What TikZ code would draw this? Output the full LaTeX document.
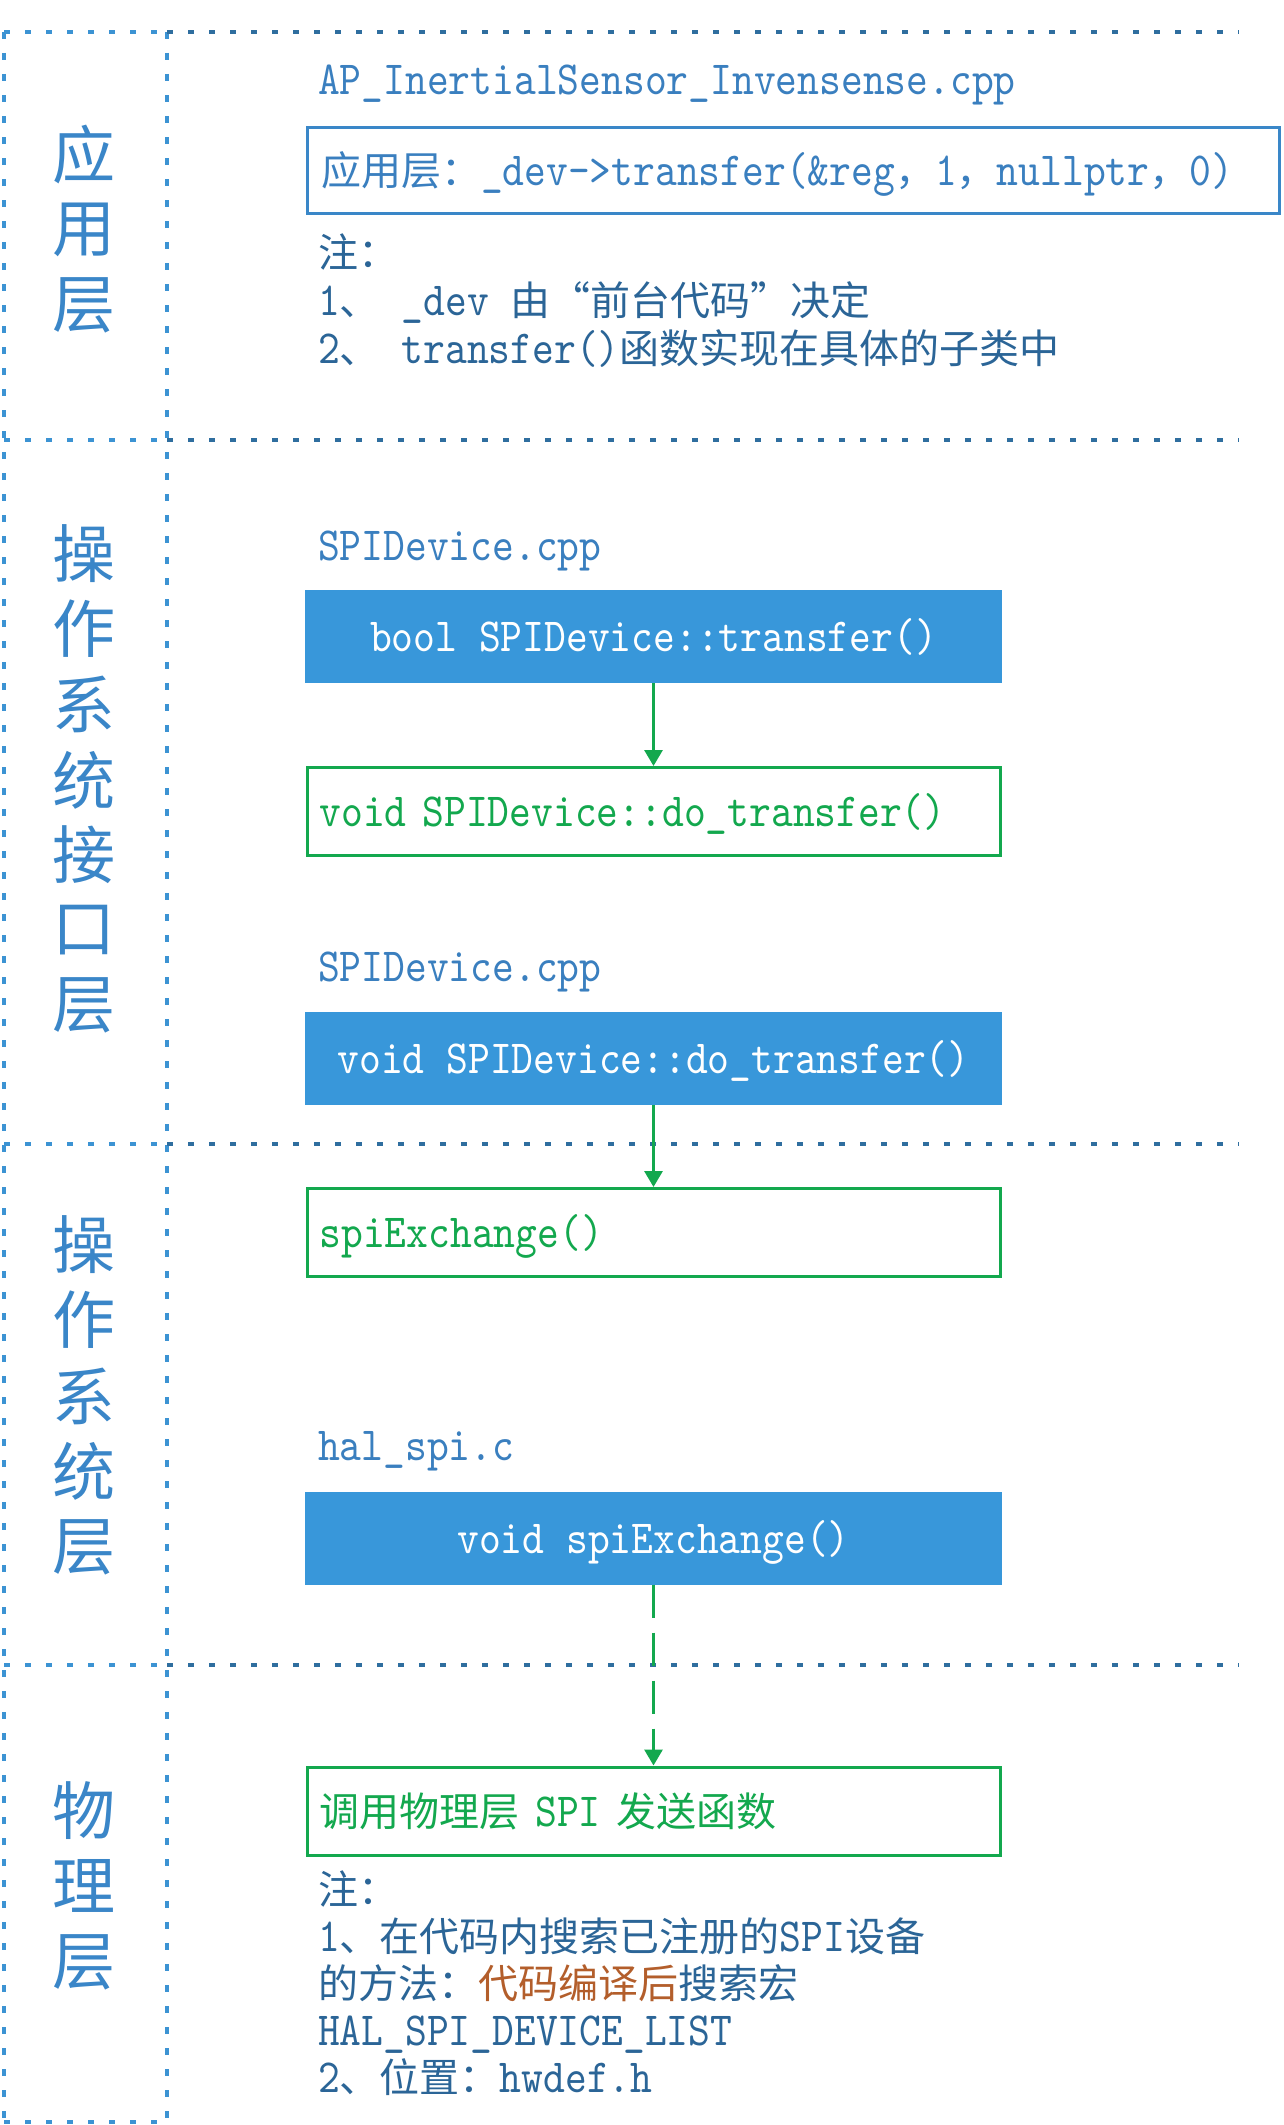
\documentclass[tikz,border=0pt]{standalone}
\usepackage{fontspec}
\newfontfamily\cjk{Noto Sans CJK SC}
\newfontfamily\lmm{lmmono10-regular}[Extension=.otf,FakeStretch=0.874]
\usetikzlibrary{arrows.meta}
\definecolor{fileblue}{HTML}{3A7FBF}
\definecolor{noteblue}{HTML}{2B6597}
\definecolor{boxfill}{HTML}{3897DA}
\definecolor{boxline}{HTML}{3A87C8}
\definecolor{grn}{HTML}{13A84E}
\definecolor{brn}{HTML}{B35E2B}
\definecolor{lineblue}{HTML}{3C93D3}
\definecolor{sepblue}{HTML}{2F6E9F}
\definecolor{labelblue}{HTML}{3A86C8}
\newcommand\lat{\lmm\fontsize{47.5}{47}\selectfont}
\newcommand\zh[1]{{\cjk\fontsize{40}{47}\selectfont #1}}
\begin{document}
\begin{tikzpicture}[x=1pt,y=-1pt,
  sepR/.style={draw=sepblue,line width=4pt,dash pattern=on 6pt off 15pt},
  sepL/.style={draw=lineblue,line width=4pt,dash pattern=on 6pt off 15pt},
  vline/.style={draw=lineblue,line width=3.5pt,dash pattern=on 7pt off 14pt},
  lbl/.style={inner sep=0pt,text=labelblue,font={\cjk\fontsize{63}{63}\selectfont}},
  filetxt/.style={anchor=base west,inner sep=0pt,text=fileblue,font=\lat},
  notetxt/.style={anchor=base west,inner sep=0pt,text=noteblue,font=\lat},
  fillbox/.style={fill=boxfill,draw=none,minimum width=697pt,minimum height=93pt,
    inner sep=0pt,text=white,font=\lat,text height=30pt,text depth=0pt},
  grnbox/.style={draw=grn,line width=3pt,fill=white,minimum width=693pt,minimum height=88pt,
    inner xsep=11.5pt,inner ysep=0pt,text width=669pt,align=left,text=grn,font=\lat,
    text height=30pt,text depth=0pt},
  bluebox/.style={draw=boxline,line width=3pt,minimum width=972pt,minimum height=86pt,
    inner xsep=13.5pt,inner ysep=0pt,text width=945pt,align=left,text=fileblue,font=\lat,
    text height=30pt,text depth=0pt},
  arr/.style={draw=grn,line width=3pt,-{Triangle[width=18pt,length=16pt]}}
]
\fill[white] (0,0) rectangle (1284,2125);
\useasboundingbox (0,0) rectangle (1284,2125);

% frame
\draw[vline] (4,32) -- (4,2122);
\draw[vline] (167,32) -- (167,2122);
\foreach \yy in {32,440,1144,1665}{
  \draw[sepL] (4,\yy) -- (167,\yy);
  \draw[sepR] (167,\yy) -- (1239,\yy);
}
\draw[sepL] (4,2122) -- (167,2122);

% layer labels
\node[lbl] (la1) at (84,155) {应};
\node[lbl] (la2) at (84,230) {用};
\node[lbl] (la3) at (84,305) {层};

\node[lbl] (lb1) at (84,554) {操};
\node[lbl] (lb2) at (84,629) {作};
\node[lbl] (lb3) at (84,704) {系};
\node[lbl] (lb4) at (84,780) {统};
\node[lbl] (lb5) at (84,855) {接};
\node[lbl] (lb6) at (84,930) {口};
\node[lbl] (lb7) at (84,1005) {层};

\node[lbl] (lc1) at (84,1245) {操};
\node[lbl] (lc2) at (84,1320) {作};
\node[lbl] (lc3) at (84,1396) {系};
\node[lbl] (lc4) at (84,1471) {统};
\node[lbl] (lc5) at (84,1547) {层};

\node[lbl] (ld1) at (84,1811) {物};
\node[lbl] (ld2) at (84,1886) {理};
\node[lbl] (ld3) at (84,1962) {层};

% section 1
\node[filetxt] (f1) at (318,94) {AP\_InertialSensor\_Invensense.cpp};
\node[bluebox] (b1) at (793.5,170.5) {\zh{应用层：}\_dev->transfer(\&reg\zh{，}1\zh{，}nullptr\zh{，}0)};
\node[notetxt] (n1a) at (318,267) {\zh{注：}};
\node[notetxt] (n1b) at (318,315) {1\zh{、} \_dev \zh{由“前台代码”决定}};
\node[notetxt] (n1c) at (318,363) {2\zh{、} transfer()\zh{函数实现在具体的子类中}};

% section 2
\node[filetxt] (f2) at (318,560) {SPIDevice.cpp};
\node[fillbox] (b2) at (653.5,636.5) {bool SPIDevice::transfer()};
\node[grnbox] (b3) at (654,811.5) {void SPIDevice::do\_transfer()};
\node[filetxt] (f3) at (318,981) {SPIDevice.cpp};
\node[fillbox] (b4) at (653.5,1058.5) {void SPIDevice::do\_transfer()};

% section 3
\node[grnbox] (b5) at (654,1232.5) {spiExchange()};
\node[filetxt] (f4) at (318,1460) {hal\_spi.c};
\node[fillbox] (b6) at (653.5,1538) {void spiExchange()};

% section 4
\node[grnbox] (b7) at (654,1811) {\zh{调用物理层} SPI \zh{发送函数}};
\node[notetxt] (n2a) at (318,1904) {\zh{注：}};
\node[notetxt] (n2b) at (318,1951) {1\zh{、在代码内搜索已注册的}SPI\zh{设备}};
\node[notetxt] (n2c) at (318,1998) {\zh{的方法：}{\color{brn}\zh{代码编译后}}\zh{搜索宏}};
\node[notetxt] (n2d) at (318,2045) {HAL\_SPI\_DEVICE\_LIST};
\node[notetxt] (n2e) at (318,2092) {2\zh{、位置：}hwdef.h};

% connectors
\draw[arr] (b2.south) -- (b2.south |- b3.north);
\draw[arr] (b4.south) -- (b4.south |- b5.north);
\draw[arr,dash pattern=on 33pt off 15pt] (b6.south) -- (b6.south |- b7.north);
\end{tikzpicture}
\end{document}
